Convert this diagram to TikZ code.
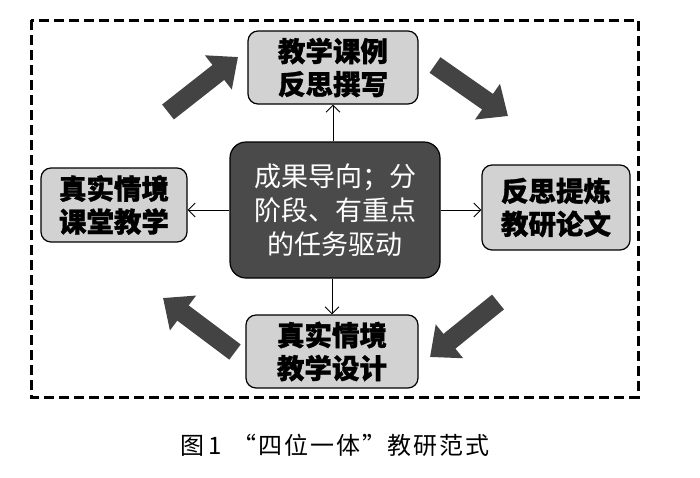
\documentclass[tikz,border=0pt]{standalone}
\usepackage{fontspec}
\newfontfamily\cjk{Noto Sans CJK SC}[BoldFeatures={FakeBold=1.2}]
\usetikzlibrary{arrows.meta}
\definecolor{kastengrau}{HTML}{D2D2D2}
\definecolor{kerngrau}{HTML}{4A4A4A}
\definecolor{blockgrau}{HTML}{434343}

\begin{document}
\begin{tikzpicture}[x=1pt, y=-1pt,
			 kasten/.style={draw, line width=1.2pt, rounded corners=10pt, fill=kastengrau, align=center, inner sep=0pt, font=\cjk\bfseries\fontsize{27.5}{33}\selectfont},
			 kern/.style={draw, line width=1.2pt, rounded corners=16pt, fill=kerngrau, text=white, align=center, inner sep=0pt, font=\cjk\fontsize{27}{34}\selectfont},
			 pfeil/.style={-{Straight Barb[length=7pt,width=14pt]}, line width=0.9pt},
			 block/.style={line width=19pt, -{Triangle[length=25pt,width=42pt]}, blockgrau}
  		]
	\useasboundingbox (0,0) rectangle (700,477);

	%Rahmen
		\draw[line width=3pt, dash pattern=on 10pt off 5pt] (31,20) rectangle (638,397);

	%Kasten
		\node[kern, minimum width=210pt, minimum height=136pt] (kern) at (335,210) {成果导向；分\\阶段、有重点\\的任务驱动};
		\node[kasten, minimum width=170pt, minimum height=73pt] (oben) at (333,67.5) {教学课例\\反思撰写};
		\node[kasten, minimum width=146pt, minimum height=74pt] (links) at (114,205) {真实情境\\课堂教学};
		\node[kasten, minimum width=148pt, minimum height=85pt] (rechts) at (556,207.5) {反思提炼\\教研论文};
		\node[kasten, minimum width=172pt, minimum height=73pt] (unten) at (332,351.5) {真实情境\\教学设计};
		\node[font=\cjk\fontsize{24}{24}\selectfont\addfontfeature{LetterSpace=8}] (titel) at (335,445) {图\,1\hspace{0.45em}“四位一体”教研范式};

	%Pfeile vom Kern
		\draw[pfeil] (kern.north -| oben.south) -- (oben.south);
		\draw[pfeil] (kern.west) -- (kern.west -| links.east);
		\draw[pfeil] (kern.east) -- (kern.east -| rechts.west);
		\draw[pfeil] (kern.south -| unten.north) -- (unten.north);

	%Blockpfeile
		\coordinate (ol1) at (168,112);
		\coordinate (ol2) at (238,57);
		\coordinate (or1) at (435,65);
		\coordinate (or2) at (508,116);
		\coordinate (ur1) at (498,302);
		\coordinate (ur2) at (430,357);
		\coordinate (ul1) at (235,352);
		\coordinate (ul2) at (163,298);
		\draw[block] (ol1) -- (ol2);
		\draw[block] (or1) -- (or2);
		\draw[block] (ur1) -- (ur2);
		\draw[block] (ul1) -- (ul2);
	\end{tikzpicture}
\end{document}
